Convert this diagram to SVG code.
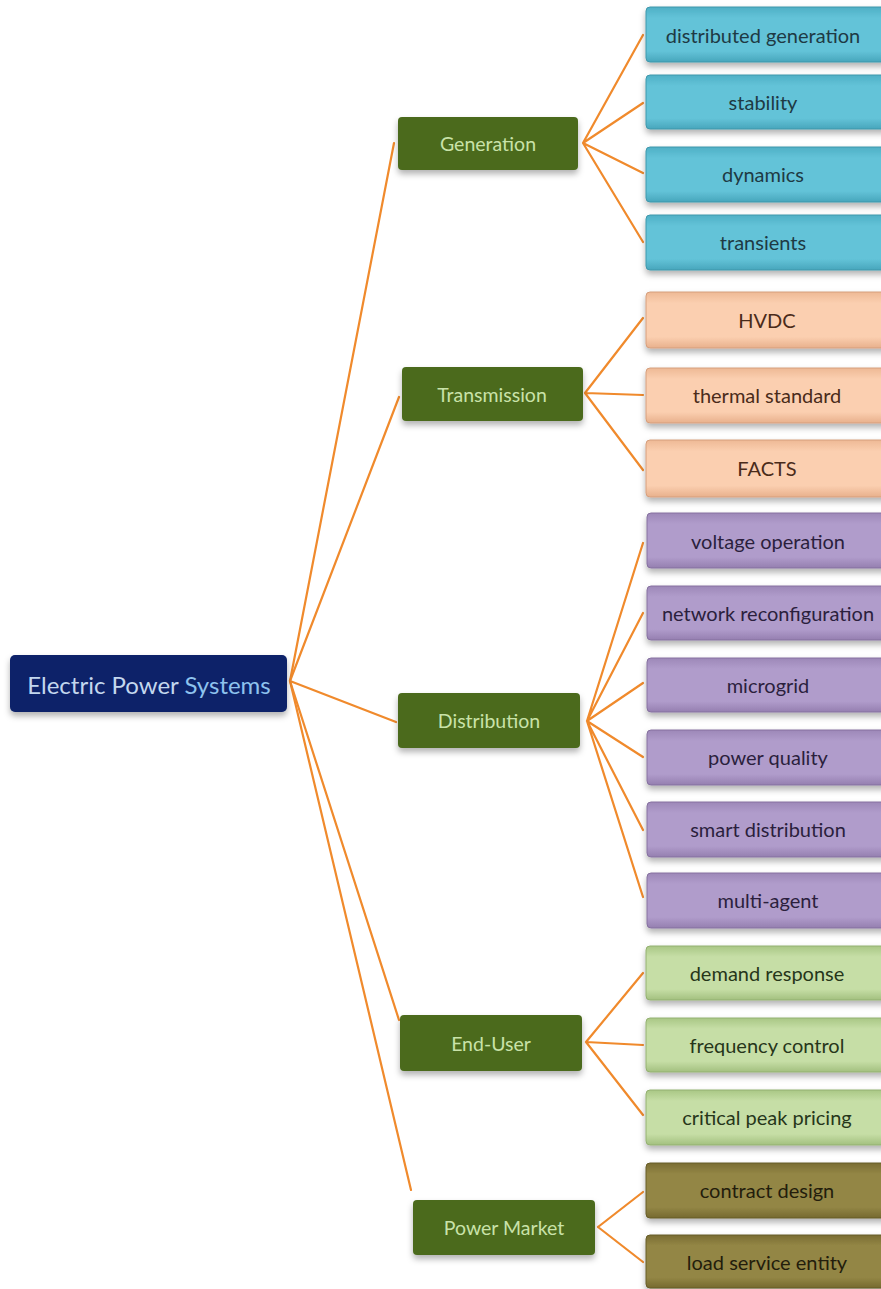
<svg xmlns="http://www.w3.org/2000/svg" width="881" height="1289" viewBox="0 0 881 1289">
<defs>
<filter id="sh" x="-10%" y="-20%" width="120%" height="160%">
<feDropShadow dx="0" dy="4" stdDeviation="3" flood-color="#000" flood-opacity="0.3"/>
</filter>
<linearGradient id="gCyan" x1="0" y1="0" x2="0" y2="1"><stop offset="0" stop-color="#4fb0c6"/><stop offset="0.2" stop-color="#63c3d8"/><stop offset="0.8" stop-color="#63c3d8"/><stop offset="1" stop-color="#48a6bc"/></linearGradient>
<linearGradient id="gSalmon" x1="0" y1="0" x2="0" y2="1"><stop offset="0" stop-color="#eeb995"/><stop offset="0.2" stop-color="#fbcfb0"/><stop offset="0.8" stop-color="#fbcfb0"/><stop offset="1" stop-color="#e8b08c"/></linearGradient>
<linearGradient id="gPurple" x1="0" y1="0" x2="0" y2="1"><stop offset="0" stop-color="#9d88b8"/><stop offset="0.2" stop-color="#b09ccb"/><stop offset="0.8" stop-color="#b09ccb"/><stop offset="1" stop-color="#957fb0"/></linearGradient>
<linearGradient id="gLime" x1="0" y1="0" x2="0" y2="1"><stop offset="0" stop-color="#a9c785"/><stop offset="0.2" stop-color="#c6dea6"/><stop offset="0.8" stop-color="#c6dea6"/><stop offset="1" stop-color="#a3c07f"/></linearGradient>
<linearGradient id="gOlive" x1="0" y1="0" x2="0" y2="1"><stop offset="0" stop-color="#7a6d33"/><stop offset="0.2" stop-color="#938645"/><stop offset="0.8" stop-color="#938645"/><stop offset="1" stop-color="#766a30"/></linearGradient>
</defs>
<style>
.c{stroke:#f08a2c;stroke-width:2.2;fill:none;stroke-linecap:round}
.mid rect{fill:#4b6b1d;filter:url(#sh)}
.mid text{fill:#c9e2a9;font-family:Lato,"Liberation Sans",sans-serif;font-size:19.5px;text-anchor:middle;dominant-baseline:central}
.leaf rect{filter:url(#sh);stroke-width:1}
.leaf text{font-family:Lato,"Liberation Sans",sans-serif;font-size:20px;text-anchor:middle;dominant-baseline:central}
.cy rect{fill:url(#gCyan);stroke:#3f97ab}.cy text{fill:#1e3a44}
.sa rect{fill:url(#gSalmon);stroke:#d59e7c}.sa text{fill:#4a2b1a}
.pu rect{fill:url(#gPurple);stroke:#85709f}.pu text{fill:#2b1f3d}
.li rect{fill:url(#gLime);stroke:#93b070}.li text{fill:#26361a}
.ol rect{fill:url(#gOlive);stroke:#665c28}.ol text{fill:#231d0c}
</style>
<rect width="881" height="1289" fill="#ffffff"/>
<g id="connectors">
<path class="c" d="M290 681 L394 143"/>
<path class="c" d="M290 681 L399 397"/>
<path class="c" d="M290 681 L396 722"/>
<path class="c" d="M290 681 L399 1020"/>
<path class="c" d="M290 681 L411 1190"/>
<path class="c" d="M583 143 L643 35 M583 143 L643 103 M583 143 L643 173 M583 143 L643 242"/>
<path class="c" d="M585 393 L643 318 M585 393 L643 395 M585 393 L643 470"/>
<path class="c" d="M587 721 L643 543 M587 721 L643 613 M587 721 L643 683 M587 721 L643 757 M587 721 L643 830 M587 721 L643 897"/>
<path class="c" d="M586 1042 L643 973 M586 1042 L643 1045 M586 1042 L643 1115"/>
<path class="c" d="M598 1227 L643 1192 M598 1227 L643 1262"/>
</g>
<g id="root">
<rect x="10" y="655" width="277" height="57" rx="5" fill="#0a2169" filter="url(#sh)"/>
<text x="149" y="684" font-family="Lato,'Liberation Sans',sans-serif" font-size="24" text-anchor="middle" dominant-baseline="central" fill="#c3d7ee">Electric Power <tspan fill="#8ec2ee">Systems</tspan></text>
</g>
<g id="generation" class="mid"><rect x="398" y="117" width="180" height="53" rx="4"/><text x="488" y="143">Generation</text></g>
<g id="transmission" class="mid"><rect x="402" y="367" width="181" height="54" rx="4"/><text x="492" y="394">Transmission</text></g>
<g id="distribution" class="mid"><rect x="398" y="693" width="182" height="55" rx="4"/><text x="489" y="720">Distribution</text></g>
<g id="end-user" class="mid"><rect x="400" y="1015" width="182" height="56" rx="4"/><text x="491" y="1043">End-User</text></g>
<g id="power-market" class="mid"><rect x="413" y="1200" width="182" height="55" rx="4"/><text x="504" y="1227">Power Market</text></g>

<g id="distributed-generation" class="leaf cy"><rect x="646" y="7" width="245" height="55" rx="4"/><text x="763" y="35">distributed generation</text></g>
<g id="stability" class="leaf cy"><rect x="646" y="75" width="245" height="54" rx="4"/><text x="763" y="102">stability</text></g>
<g id="dynamics" class="leaf cy"><rect x="646" y="147" width="245" height="55" rx="4"/><text x="763" y="174">dynamics</text></g>
<g id="transients" class="leaf cy"><rect x="646" y="215" width="245" height="55" rx="4"/><text x="763" y="242">transients</text></g>

<g id="hvdc" class="leaf sa"><rect x="646" y="292" width="245" height="56" rx="4"/><text x="767" y="320">HVDC</text></g>
<g id="thermal-standard" class="leaf sa"><rect x="646" y="368" width="245" height="55" rx="4"/><text x="767" y="395">thermal standard</text></g>
<g id="facts" class="leaf sa"><rect x="646" y="440" width="245" height="57" rx="4"/><text x="767" y="468">FACTS</text></g>

<g id="voltage-operation" class="leaf pu"><rect x="647" y="513" width="245" height="55" rx="4"/><text x="768" y="541">voltage operation</text></g>
<g id="network-reconfiguration" class="leaf pu"><rect x="647" y="586" width="245" height="54" rx="4"/><text x="768" y="613">network reconfiguration</text></g>
<g id="microgrid" class="leaf pu"><rect x="647" y="658" width="245" height="54" rx="4"/><text x="768" y="685">microgrid</text></g>
<g id="power-quality" class="leaf pu"><rect x="647" y="730" width="245" height="55" rx="4"/><text x="768" y="757">power quality</text></g>
<g id="smart-distribution" class="leaf pu"><rect x="647" y="802" width="245" height="55" rx="4"/><text x="768" y="829">smart distribution</text></g>
<g id="multi-agent" class="leaf pu"><rect x="647" y="873" width="245" height="55" rx="4"/><text x="768" y="900">multi-agent</text></g>

<g id="demand-response" class="leaf li"><rect x="646" y="946" width="245" height="54" rx="4"/><text x="767" y="973">demand response</text></g>
<g id="frequency-control" class="leaf li"><rect x="646" y="1018" width="245" height="54" rx="4"/><text x="767" y="1045">frequency control</text></g>
<g id="critical-peak-pricing" class="leaf li"><rect x="646" y="1090" width="245" height="55" rx="4"/><text x="767" y="1117">critical peak pricing</text></g>

<g id="contract-design" class="leaf ol"><rect x="646" y="1163" width="245" height="55" rx="4"/><text x="767" y="1190">contract design</text></g>
<g id="load-service-entity" class="leaf ol"><rect x="646" y="1235" width="245" height="53" rx="4"/><text x="767" y="1262">load service entity</text></g>
</svg>
